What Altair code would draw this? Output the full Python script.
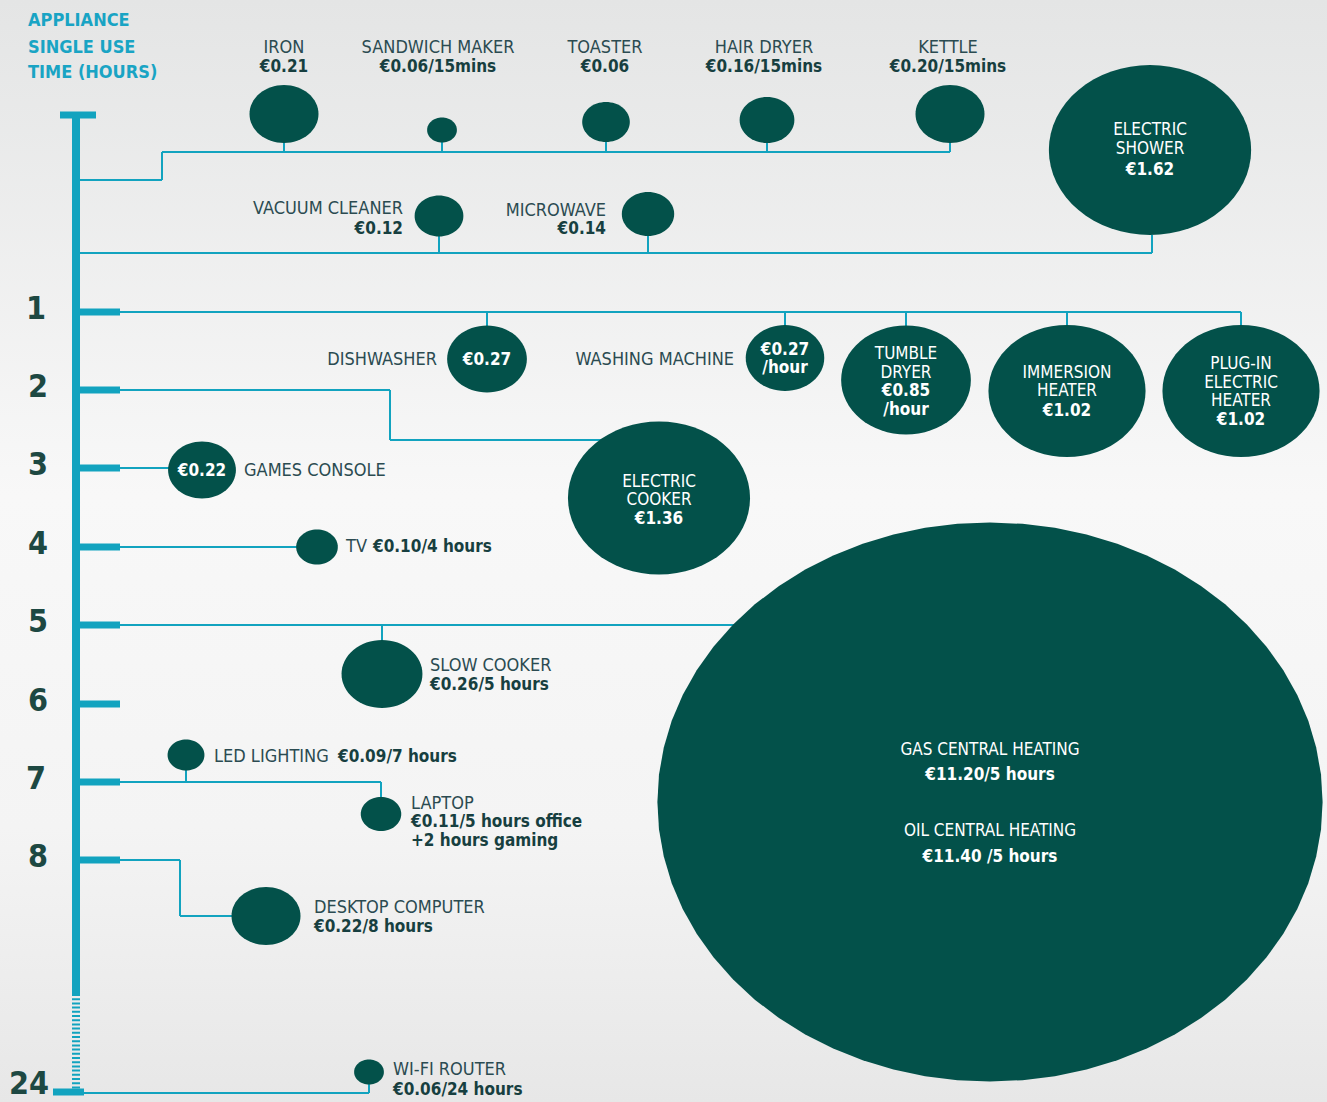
import math
import altair as alt
import pandas as pd

W, H = 1327, 1102
TEAL = "#12a3bf"
GREEN = "#03514a"
NAME_C = "#2b4b51"
VAL_C = "#173f40"
HOUR_C = "#1d4842"
FONT = "'Liberation Sans Narrow', 'Arial Narrow', 'DejaVu Sans Condensed', 'Roboto Condensed', sans-serif"

# ---------------- data ----------------
header_lines = ["APPLIANCE", "SINGLE USE", "TIME (HOURS)"]
hour_labels = ["1", "2", "3", "4", "5", "6", "7", "8", "24"]

appliances = ["IRON", "SANDWICH MAKER", "TOASTER", "HAIR DRYER", "KETTLE",
              "ELECTRIC SHOWER", "VACUUM CLEANER", "MICROWAVE", "DISHWASHER",
              "WASHING MACHINE", "TUMBLE DRYER", "IMMERSION HEATER",
              "PLUG-IN ELECTRIC HEATER", "ELECTRIC COOKER", "GAMES CONSOLE", "TV",
              "SLOW COOKER", "GAS / OIL CENTRAL HEATING", "LED LIGHTING", "LAPTOP",
              "DESKTOP COMPUTER", "WI-FI ROUTER"]
costs = ["€0.21", "€0.06/15mins", "€0.06", "€0.16/15mins", "€0.20/15mins",
         "€1.62", "€0.12", "€0.14", "€0.27", "€0.27/hour", "€0.85/hour", "€1.02",
         "€1.02", "€1.36", "€0.22", "€0.10/4 hours", "€0.26/5 hours",
         "€11.20 / €11.40 per 5 hours", "€0.09/7 hours", "€0.11/7 hours",
         "€0.22/8 hours", "€0.06/24 hours"]

# ---------------- layout ----------------
hour_y = [312, 390, 468, 547, 625, 704, 782, 860, 1093]
hour_lx = [36, 38, 38, 38, 38, 38, 36, 38, 29]
hour_ly = [309, 387, 465, 544, 622, 701, 779, 857, 1084]

bub_cx = [284, 442, 606, 767, 950, 1150, 439, 648, 487, 785, 906, 1067, 1241,
          659, 202, 317, 382, 990, 186, 381, 266, 369]
bub_cy = [114, 130, 122, 120, 114, 150, 216, 214, 359, 358, 380, 391, 391,
          498, 470, 547, 674, 802, 755, 814, 916, 1072]
bub_h = [58, 25, 40, 46, 58, 170, 41, 44, 67, 66, 109, 132, 132,
         153, 57, 35, 68, 559, 31, 34, 58, 25]

# connector segments (x1, y1, x2, y2)
seg_x1 = [80, 162, 162, 80, 1152, 80, 80, 390, 390, 80, 80, 80, 80, 381, 186, 80, 180, 180, 80, 369]
seg_y1 = [180, 180, 152, 253, 253, 312, 390, 390, 440, 468, 547, 625, 782, 782, 755, 860, 860, 916, 1093, 1093]
seg_x2 = [162, 162, 950, 1152, 1152, 1241, 390, 390, 659, 202, 317, 990, 381, 381, 186, 180, 180, 266, 369, 369]
seg_y2 = [180, 152, 152, 253, 235, 312, 390, 440, 440, 468, 547, 625, 782, 814, 782, 860, 916, 916, 1093, 1072]
# stems from bubbles down/up to their branch line
stem_idx = [0, 1, 2, 3, 4, 6, 7, 8, 9, 10, 11, 12, 16]
stem_to = [152, 152, 152, 152, 152, 253, 253, 312, 312, 312, 312, 312, 625]

xsc = alt.Scale(domain=[0, W], nice=False, zero=False)
ysc = alt.Scale(domain=[0, H], nice=False, zero=False, reverse=True)


def X(f="x"):
    return alt.X(f"{f}:Q", scale=xsc, axis=None)


def Y(f="y"):
    return alt.Y(f"{f}:Q", scale=ysc, axis=None)


def text_layer(texts, xs_, ys_, align, bold, color, size):
    df = pd.DataFrame({"t": texts, "x": xs_, "y": ys_})
    return alt.Chart(df).mark_text(
        align=align, baseline="middle", fontWeight="bold" if bold else "normal",
        color=color, fontSize=size, font=FONT
    ).encode(x=X(), y=Y(), text="t:N")


layers = []

# background gradient
bg = alt.Chart(pd.DataFrame({"a": [0]})).mark_rect(
    color=alt.Gradient(gradient="linear", x1=0, x2=0, y1=0, y2=1,
                       stops=[alt.GradientStop(offset=0, color="#e4e5e5"),
                              alt.GradientStop(offset=0.45, color="#f8f8f8"),
                              alt.GradientStop(offset=0.75, color="#f4f4f4"),
                              alt.GradientStop(offset=1, color="#e7e7e7")])
).encode(x=alt.value(0), x2=alt.value(W), y=alt.value(0), y2=alt.value(H))
layers.append(bg)

# connectors
segs = pd.DataFrame({"x": seg_x1, "y": seg_y1, "x2": seg_x2, "y2": seg_y2})
layers.append(alt.Chart(segs).mark_rule(color=TEAL, strokeWidth=2).encode(
    x=X(), y=Y(), x2="x2:Q", y2="y2:Q"))
stems = pd.DataFrame({"x": [bub_cx[i] for i in stem_idx],
                      "y": [bub_cy[i] for i in stem_idx],
                      "y2": stem_to})
layers.append(alt.Chart(stems).mark_rule(color=TEAL, strokeWidth=2).encode(
    x=X(), y=Y(), y2="y2:Q"))

# time axis
axis_df = pd.DataFrame({"x": [76], "y": [112], "y2": [994]})
layers.append(alt.Chart(axis_df).mark_rule(color=TEAL, strokeWidth=8).encode(
    x=X(), y=Y(), y2="y2:Q"))
axis_d = pd.DataFrame({"x": [76], "y": [994], "y2": [1090]})
layers.append(alt.Chart(axis_d).mark_rule(color=TEAL, strokeWidth=8, strokeDash=[2, 2.2]).encode(
    x=X(), y=Y(), y2="y2:Q"))
caps = pd.DataFrame({"x": [60, 53], "x2": [96, 84], "y": [115, 1092]})
layers.append(alt.Chart(caps).mark_rule(color=TEAL, strokeWidth=7).encode(
    x=X(), x2="x2:Q", y=Y()))
ticks = pd.DataFrame({"x": [78] * 8, "x2": [120] * 8, "y": hour_y[:8]})
layers.append(alt.Chart(ticks).mark_rule(color=TEAL, strokeWidth=7).encode(
    x=X(), x2="x2:Q", y=Y()))

# bubbles (slightly wide ellipses)
ASPECT = 1.19
pts = []
for k in range(64):
    t = 2 * math.pi * k / 64
    pts.append(f"{ASPECT * math.cos(t):.4f},{math.sin(t):.4f}")
ellipse = "M" + " L".join(pts) + " Z"
bub = pd.DataFrame({"name": appliances, "cost": costs, "x": bub_cx, "y": bub_cy,
                    "s": [h * h for h in bub_h]})
layers.append(alt.Chart(bub).mark_point(filled=True, shape=ellipse, color=GREEN,
                                         opacity=1, strokeWidth=0).encode(
    x=X(), y=Y(), size=alt.Size("s:Q", scale=None, legend=None),
    tooltip=["name:N", "cost:N"]))

# header
layers.append(text_layer(header_lines, [28, 28, 28], [21, 48, 73], "left", True, "#19a4c4", 18))
# hour labels
layers.append(text_layer(hour_labels, hour_lx, hour_ly, "center", True, HOUR_C, 32))

# top row labels
top_idx = [0, 1, 2, 3, 4]
top_x = [284, 438, 605, 764, 948]
layers.append(text_layer([appliances[i] for i in top_idx], top_x, [48] * 5, "center", False, NAME_C, 18))
layers.append(text_layer([costs[i] for i in top_idx], top_x, [67] * 5, "center", True, VAL_C, 17))

# right aligned labels
layers.append(text_layer([appliances[6], appliances[7], appliances[8], appliances[9]],
                         [403, 606, 437, 734], [209, 211, 360, 360], "right", False, NAME_C, 18))
layers.append(text_layer([costs[6], costs[7]], [403, 606], [229, 229], "right", True, VAL_C, 17))

# left aligned labels
layers.append(text_layer([appliances[14], appliances[15], appliances[16], appliances[18],
                          appliances[19], appliances[20], appliances[21]],
                         [244, 346, 430, 214, 411, 314, 393],
                         [471, 547, 666, 757, 804, 908, 1070], "left", False, NAME_C, 18))
layers.append(text_layer(["€0.10/4 hours", "€0.26/5 hours", "€0.09/7 hours",
                          "€0.11/5 hours office", "+2 hours gaming", "€0.22/8 hours",
                          "€0.06/24 hours"],
                         [373, 430, 338, 411, 411, 314, 393],
                         [547, 685, 757, 822, 841, 927, 1090], "left", True, VAL_C, 17))

# white text inside bubbles
layers.append(text_layer(["ELECTRIC", "SHOWER", "TUMBLE", "DRYER", "IMMERSION", "HEATER",
                          "PLUG-IN", "ELECTRIC", "HEATER", "ELECTRIC", "COOKER",
                          "GAS CENTRAL HEATING", "OIL CENTRAL HEATING"],
                         [1150, 1150, 906, 906, 1067, 1067, 1241, 1241, 1241, 659, 659, 990, 990],
                         [130, 149, 354, 373, 373, 391, 364, 383, 401, 482, 500, 750, 831],
                         "center", False, "white", 17))
layers.append(text_layer(["€1.62", "€0.27", "€0.27", "/hour", "€0.85", "/hour", "€1.02",
                          "€1.02", "€1.36", "€0.22", "€11.20/5 hours", "€11.40 /5 hours"],
                         [1150, 487, 785, 785, 906, 906, 1067, 1241, 659, 202, 990, 990],
                         [170, 360, 350, 368, 391, 410, 411, 420, 519, 471, 775, 857],
                         "center", True, "white", 17))

chart = alt.layer(*layers).properties(
    width=W, height=H, padding=0, autosize=alt.AutoSizeParams(type="none"),
    background="#efefef"
).configure_view(stroke=None)

chart.save("out.html", embed_options={"renderer": "svg", "actions": False})
